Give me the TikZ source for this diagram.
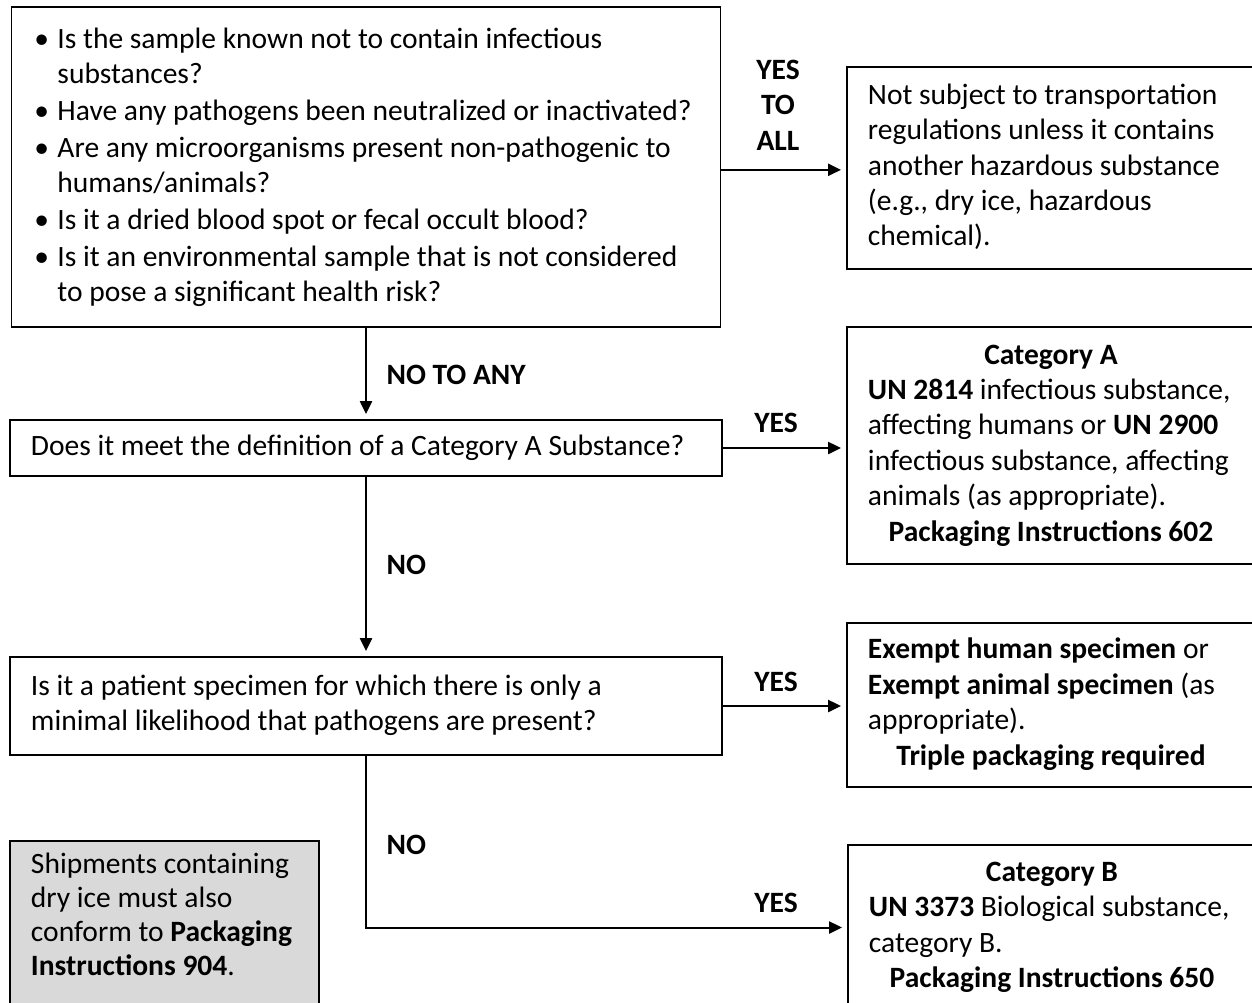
\documentclass[tikz,border=0pt]{standalone}
\usepackage{fontspec}
\setmainfont{Carlito}
\usetikzlibrary{arrows.meta,positioning,calc}
\definecolor{notegray}{RGB}{217,217,217}
\newlength\px
\setlength\px{0.354pt}
\newcommand\itm{\par\vspace{1.5\px}\noindent\hangindent=25\px\hangafter=1\makebox[25\px][l]{\hspace{2\px}\textbullet}}
\newcommand\itmend{\strut\rule[-21\px]{0pt}{0pt}\par}
\newcommand\ctr[1]{\makebox[366\px]{\bfseries #1}}

\begin{document}
\begin{tikzpicture}[x=0.354pt, y=-0.354pt,
    base/.style={rectangle, draw, line width=0.7pt, inner xsep=21\px, inner ysep=0pt, align=flush left, font=\fontsize{10.45}{12.53}\selectfont},
    box/.style={base, execute at begin node=\strut, execute at end node=\strut},
    outcome/.style={box, anchor=west, minimum width=430\px, text width=388\px},
    lbl/.style={font=\fontsize{10.45}{12.53}\selectfont\bfseries, inner sep=0pt},
    arrow/.style={-{Triangle[length=4.6pt, width=4.3pt]}, line width=0.7pt, shorten >=5\px}
  ]
  \useasboundingbox (0,0) rectangle (1252,1002);
  \clip (0,0) rectangle (1252,1002);

  % Questions
  \node[base, minimum width=709\px, minimum height=320\px, text width=667\px] (q1) at (366,167) {%
    \itm\strut Is the sample known not to contain infectious\newline substances?
    \itm Have any pathogens been neutralized or inactivated?
    \itm Are any microorganisms present non-pathogenic to\newline humans/animals?
    \itm Is it a dried blood spot or fecal occult blood?
    \itm Is it an environmental sample that is not considered\newline to pose a significant health risk?\itmend};
  \node[box, minimum width=712\px, minimum height=56\px, text width=670\px] (q2) at (366,448) {Does it meet the definition of a Category A Substance?};
  \node[box, minimum width=712\px, minimum height=98\px, text width=670\px] (q3) at (366,706) {Is it a patient specimen for which there is only a\\ minimal likelihood that pathogens are present?};

  % Outcomes
  \node[outcome, minimum height=202\px] (notsub) at (846,168) {Not subject to transportation\\ regulations unless it contains\\ another hazardous substance\\ (e.g., dry ice, hazardous\\ chemical).};
  \node[outcome, minimum height=237\px] (catA) at (846,445.5) {\ctr{Category A}\\ \textbf{UN 2814} infectious substance,\\ affecting humans or \textbf{UN 2900}\\ infectious substance, affecting\\ animals (as appropriate).\\ \ctr{Packaging Instructions 602}};
  \node[outcome, minimum height=164\px] (exempt) at (846,705) {\textbf{Exempt human specimen} or\\ \textbf{Exempt animal specimen} (as\\ appropriate).\\ \ctr{Triple packaging required}};
  \node[outcome, minimum height=165\px] (catB) at (847,927.5) {\ctr{Category B}\\ \textbf{UN 3373} Biological substance,\\ category B.\\ \ctr{Packaging Instructions 650}};

  % Note
  \node[base, font=\fontsize{10.45}{12.1}\selectfont, fill=notegray, anchor=north west, minimum width=309\px, text width=267\px, text height=32\px, text depth=140\px] (dryice) at (9,840) {Shipments containing\\ dry ice must also\\ conform to \textbf{Packaging}\\ \textbf{Instructions 904}.};

  % Labels
  \node[lbl, align=center] (yesall) at (778,105) {YES\\TO\\ALL};
  \node[lbl, anchor=west] (notoany) at (386,375) {NO TO ANY};
  \node[lbl] (yesA) at (776,423) {YES};
  \node[lbl, anchor=west] (noA) at (386,565) {NO};
  \node[lbl] (yesEx) at (776,682) {YES};
  \node[lbl, anchor=west] (noEx) at (386,845) {NO};
  \node[lbl] (yesB) at (776,903) {YES};

  % Arrows
  \draw[arrow] ([yshift=-1pt]q1.east) -- ([yshift=-1pt]q1.east -| notsub.west);
  \draw[arrow] (q1.south) -- (q2.north);
  \draw[arrow] (q2.east) -- (q2.east -| catA.west);
  \draw[arrow] (q2.south) -- (q3.north);
  \draw[arrow] (q3.east) -- (q3.east -| exempt.west);
  \draw[arrow] (q3.south) |- (catB.west);

\end{tikzpicture}
\end{document}
